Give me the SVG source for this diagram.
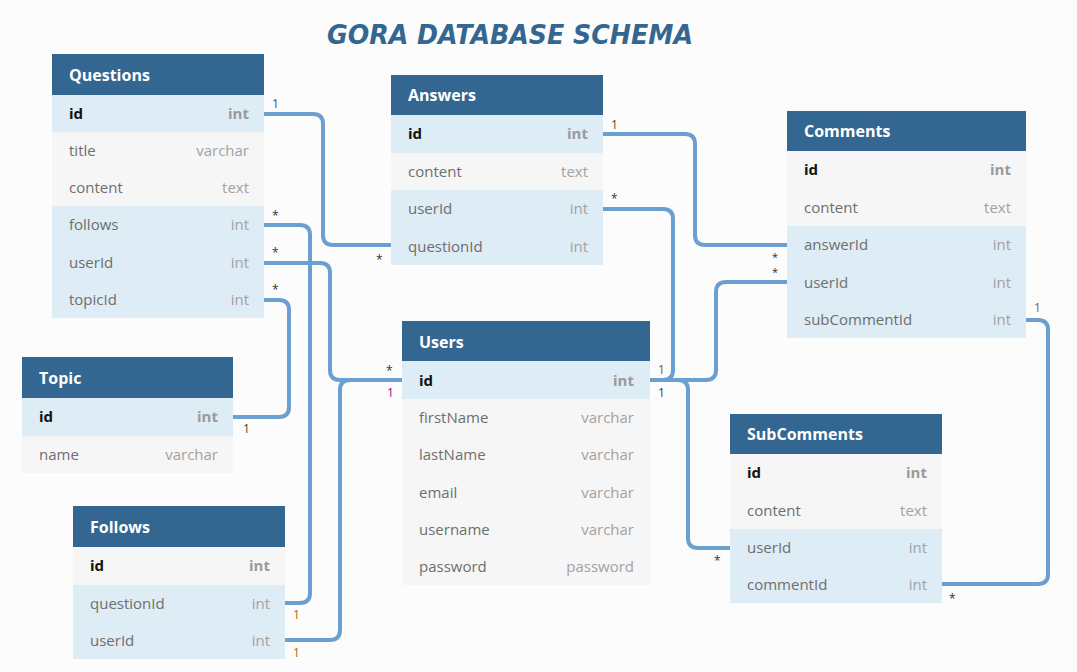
<svg xmlns="http://www.w3.org/2000/svg" width="1077" height="672" viewBox="0 0 1077 672">
<style>
.bg{fill:#fcfcfc}
.hd{fill:#336791}
.rb{fill:#deecf5}
.rg{fill:#f6f6f6}
.ht{font-family:"Open Sans","DejaVu Sans",sans-serif;font-size:16px;font-weight:bold;fill:#ffffff}
.fn{font-family:"Open Sans","DejaVu Sans",sans-serif;font-size:15px;fill:#6e6e6e}
.ft{font-family:"Open Sans","DejaVu Sans",sans-serif;font-size:15px;fill:#a2a2a2;text-anchor:end}
.pk{font-family:"Open Sans","DejaVu Sans",sans-serif;font-size:15px;font-weight:bold;fill:#111111}
.pt{font-family:"Open Sans","DejaVu Sans",sans-serif;font-size:15px;font-weight:bold;fill:#9a9a9a;text-anchor:end}
.cn{fill:none;stroke:#6a9fcf;stroke-width:4;stroke-linejoin:round}
.lb{font-family:"Open Sans","DejaVu Sans",sans-serif;font-size:12px;fill:#333333}
.sm{font-size:11px}
.title{font-family:"DejaVu Sans",sans-serif;font-style:italic;font-weight:bold;font-size:27px;fill:#336791}
</style>
<rect class="bg" x="0" y="0" width="1077" height="672"/>
<text class="title" x="327" y="44" textLength="366" lengthAdjust="spacingAndGlyphs">GORA DATABASE SCHEMA</text>

<g id="connectors">
<path class="cn" d="M264,114 H313 Q323,114 323,124 V235 Q323,245 333,245 H391"/>
<path class="cn" d="M603,134 H685 Q695,134 695,144 V235 Q695,245 705,245 H787"/>
<path class="cn" d="M603,209 H663 Q673,209 673,219 V370 Q673,380 663,380 H650"/>
<path class="cn" d="M787,282 H726 Q716,282 716,292 V370 Q716,380 706,380 H650"/>
<path class="cn" d="M650,380 H678 Q688,380 688,390 V538 Q688,548 698,548 H730"/>
<path class="cn" d="M1026,320 H1038 Q1048,320 1048,330 V574 Q1048,584 1038,584 H942"/>
<path class="cn" d="M264,225 H300 Q310,225 310,235 V593 Q310,603 300,603 H285"/>
<path class="cn" d="M264,263 H320 Q330,263 330,273 V370 Q330,380 340,380 H402"/>
<path class="cn" d="M264,300 H279 Q289,300 289,310 V407 Q289,417 279,417 H233"/>
<path class="cn" d="M285,640 H330 Q340,640 340,630 V390 Q340,380 350,380 H402"/>
<text class="lb" x="272" y="108" style="fill:#2a4f9a">1</text>
<text class="lb" x="272" y="220">*</text>
<text class="lb" x="272" y="257">*</text>
<text class="lb" x="272" y="294">*</text>
<text class="lb" x="376" y="264">*</text>
<text class="lb" x="611" y="129" style="fill:#5a4a2a">1</text>
<text class="lb" x="611" y="203">*</text>
<text class="lb sm" x="772" y="261">*</text>
<text class="lb sm" x="772" y="276">*</text>
<text class="lb" x="658" y="374" style="fill:#7a5a30">1</text>
<text class="lb" x="658" y="397" style="fill:#1a3f8a">1</text>
<text class="lb" x="386" y="375">*</text>
<text class="lb" x="387" y="397" style="fill:#7a1a8a">1</text>
<text class="lb" x="243" y="433" style="fill:#4a4a2a">1</text>
<text class="lb" x="293" y="619" style="fill:#b06a10">1</text>
<text class="lb" x="293" y="657" style="fill:#b06a10">1</text>
<text class="lb" x="714" y="565">*</text>
<text class="lb" x="1034" y="312" style="fill:#8a6a30">1</text>
<text class="lb" x="949" y="603">*</text>
</g>

<g id="questions">
<rect class="hd" x="52" y="54" width="212" height="41"/>
<text class="ht" x="69" y="81">Questions</text>
<rect class="rb" x="52" y="95" width="212" height="37"/>
<text class="pk" x="69" y="119">id</text><text class="pt" x="249" y="119">int</text>
<rect class="rg" x="52" y="132" width="212" height="37"/>
<text class="fn" x="69" y="156">title</text><text class="ft" x="249" y="156">varchar</text>
<rect class="rg" x="52" y="169" width="212" height="37"/>
<text class="fn" x="69" y="193">content</text><text class="ft" x="249" y="193">text</text>
<rect class="rb" x="52" y="206" width="212" height="38"/>
<text class="fn" x="69" y="230">follows</text><text class="ft" x="249" y="230">int</text>
<rect class="rb" x="52" y="244" width="212" height="37"/>
<text class="fn" x="69" y="268">userId</text><text class="ft" x="249" y="268">int</text>
<rect class="rb" x="52" y="281" width="212" height="37"/>
<text class="fn" x="69" y="305">topicId</text><text class="ft" x="249" y="305">int</text>
</g>

<g id="answers">
<rect class="hd" x="391" y="75" width="212" height="40"/>
<text class="ht" x="408" y="101">Answers</text>
<rect class="rb" x="391" y="115" width="212" height="38"/>
<text class="pk" x="408" y="139">id</text><text class="pt" x="588" y="139">int</text>
<rect class="rg" x="391" y="153" width="212" height="37"/>
<text class="fn" x="408" y="177">content</text><text class="ft" x="588" y="177">text</text>
<rect class="rb" x="391" y="190" width="212" height="38"/>
<text class="fn" x="408" y="214">userId</text><text class="ft" x="588" y="214">int</text>
<rect class="rb" x="391" y="228" width="212" height="37"/>
<text class="fn" x="408" y="252">questionId</text><text class="ft" x="588" y="252">int</text>
</g>

<g id="comments">
<rect class="hd" x="787" y="111" width="239" height="40"/>
<text class="ht" x="804" y="137">Comments</text>
<rect class="rg" x="787" y="151" width="239" height="38"/>
<text class="pk" x="804" y="175">id</text><text class="pt" x="1011" y="175">int</text>
<rect class="rg" x="787" y="189" width="239" height="37"/>
<text class="fn" x="804" y="213">content</text><text class="ft" x="1011" y="213">text</text>
<rect class="rb" x="787" y="226" width="239" height="38"/>
<text class="fn" x="804" y="250">answerId</text><text class="ft" x="1011" y="250">int</text>
<rect class="rb" x="787" y="264" width="239" height="37"/>
<text class="fn" x="804" y="288">userId</text><text class="ft" x="1011" y="288">int</text>
<rect class="rb" x="787" y="301" width="239" height="37"/>
<text class="fn" x="804" y="325">subCommentId</text><text class="ft" x="1011" y="325">int</text>
</g>

<g id="users">
<rect class="hd" x="402" y="321" width="248" height="40"/>
<text class="ht" x="419" y="348">Users</text>
<rect class="rb" x="402" y="361" width="248" height="38"/>
<text class="pk" x="419" y="386">id</text><text class="pt" x="634" y="386">int</text>
<rect class="rg" x="402" y="399" width="248" height="37"/>
<text class="fn" x="419" y="423">firstName</text><text class="ft" x="634" y="423">varchar</text>
<rect class="rg" x="402" y="436" width="248" height="38"/>
<text class="fn" x="419" y="460">lastName</text><text class="ft" x="634" y="460">varchar</text>
<rect class="rg" x="402" y="474" width="248" height="37"/>
<text class="fn" x="419" y="498">email</text><text class="ft" x="634" y="498">varchar</text>
<rect class="rg" x="402" y="511" width="248" height="38"/>
<text class="fn" x="419" y="535">username</text><text class="ft" x="634" y="535">varchar</text>
<rect class="rg" x="402" y="549" width="248" height="36"/>
<text class="fn" x="419" y="572">password</text><text class="ft" x="634" y="572">password</text>
</g>

<g id="topic">
<rect class="hd" x="22" y="357" width="211" height="41"/>
<text class="ht" x="39" y="384">Topic</text>
<rect class="rb" x="22" y="398" width="211" height="38"/>
<text class="pk" x="39" y="422">id</text><text class="pt" x="218" y="422">int</text>
<rect class="rg" x="22" y="436" width="211" height="37"/>
<text class="fn" x="39" y="460">name</text><text class="ft" x="218" y="460">varchar</text>
</g>

<g id="follows">
<rect class="hd" x="73" y="506" width="212" height="41"/>
<text class="ht" x="90" y="533">Follows</text>
<rect class="rg" x="73" y="547" width="212" height="38"/>
<text class="pk" x="90" y="571">id</text><text class="pt" x="270" y="571">int</text>
<rect class="rb" x="73" y="585" width="212" height="37"/>
<text class="fn" x="90" y="609">questionId</text><text class="ft" x="270" y="609">int</text>
<rect class="rb" x="73" y="622" width="212" height="37"/>
<text class="fn" x="90" y="646">userId</text><text class="ft" x="270" y="646">int</text>
</g>

<g id="subcomments">
<rect class="hd" x="730" y="414" width="212" height="40"/>
<text class="ht" x="747" y="440">SubComments</text>
<rect class="rg" x="730" y="454" width="212" height="38"/>
<text class="pk" x="747" y="478">id</text><text class="pt" x="927" y="478">int</text>
<rect class="rg" x="730" y="492" width="212" height="37"/>
<text class="fn" x="747" y="516">content</text><text class="ft" x="927" y="516">text</text>
<rect class="rb" x="730" y="529" width="212" height="37"/>
<text class="fn" x="747" y="553">userId</text><text class="ft" x="927" y="553">int</text>
<rect class="rb" x="730" y="566" width="212" height="37"/>
<text class="fn" x="747" y="590">commentId</text><text class="ft" x="927" y="590">int</text>
</g>
</svg>
